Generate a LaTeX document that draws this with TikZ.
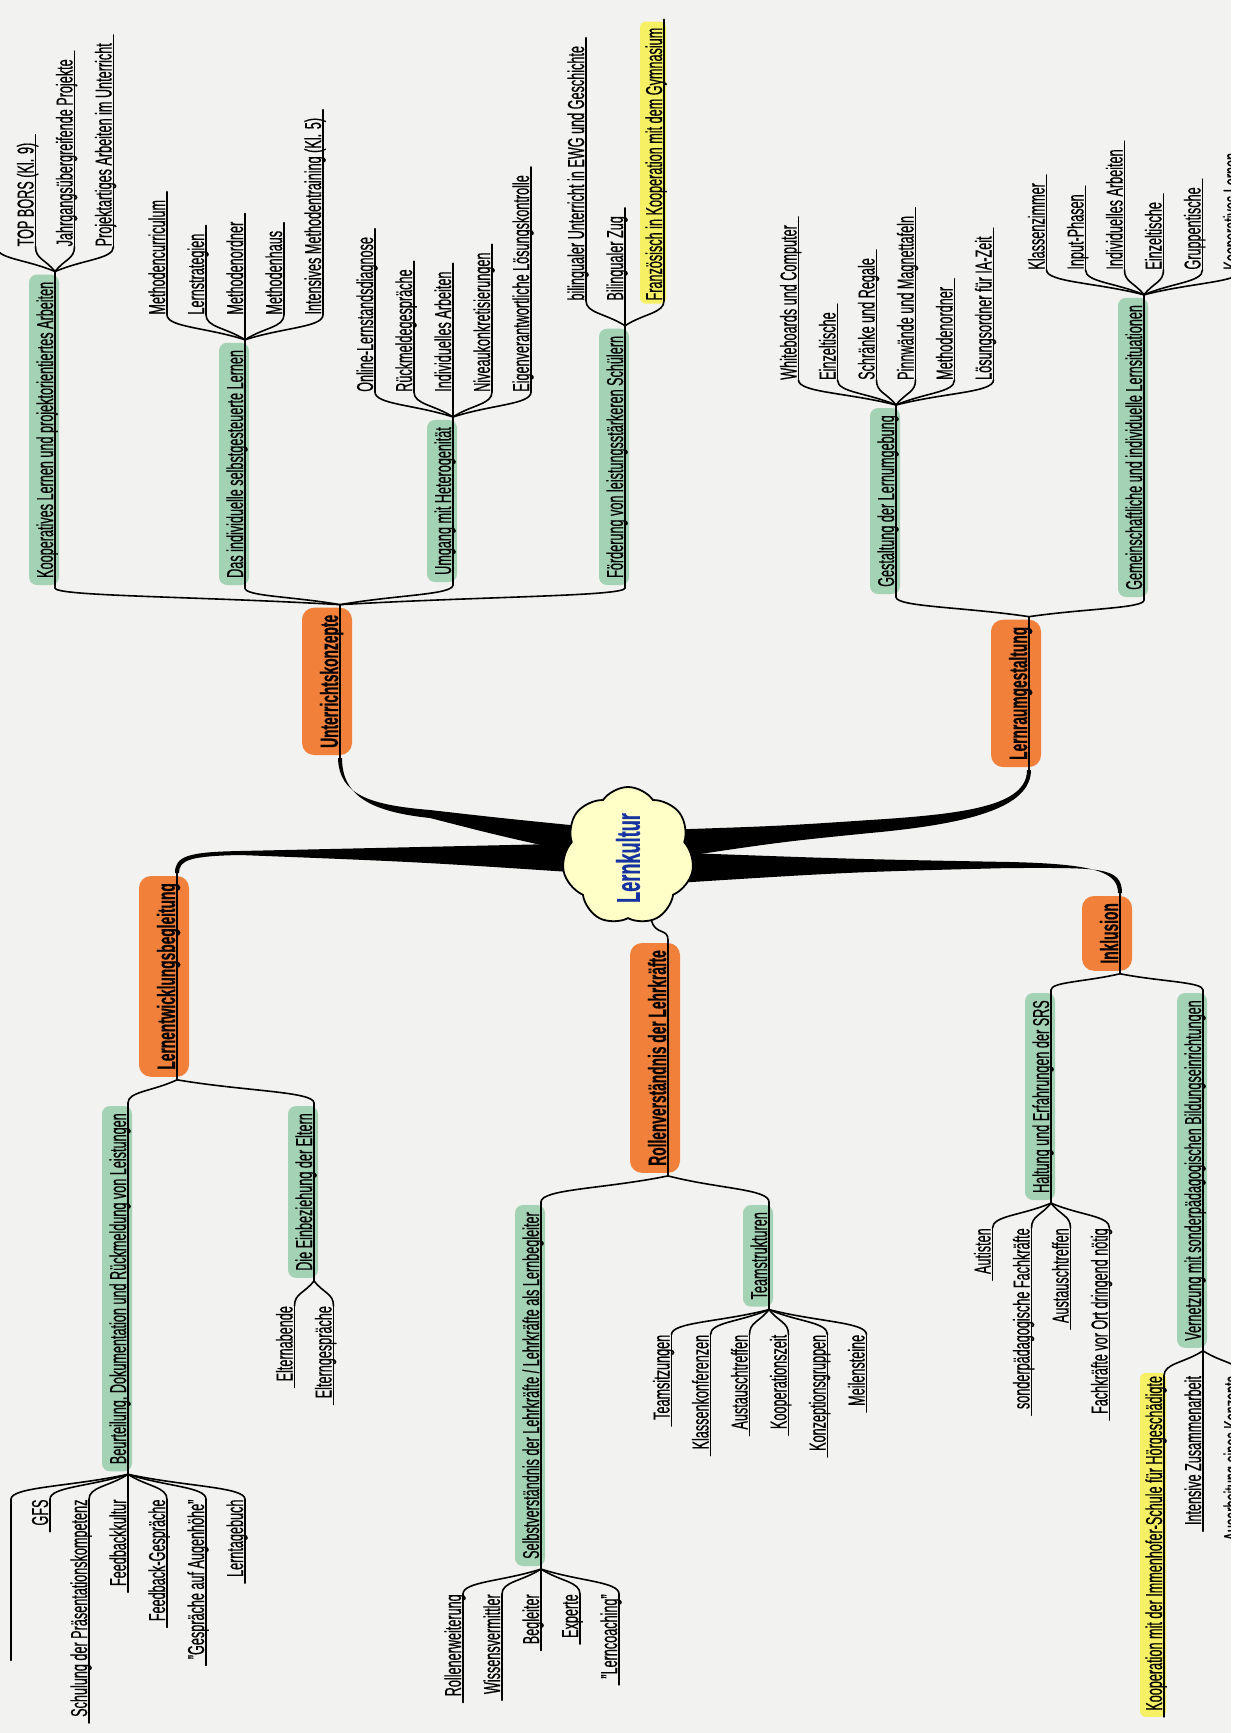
\documentclass[tikz,border=0pt]{standalone}
\usepackage{fontspec}
\setmainfont{Liberation Sans}[FakeStretch=0.55,FakeBold=0.5]
\usetikzlibrary{calc,shapes.symbols,backgrounds}
\definecolor{paper}{RGB}{242,242,240}
\definecolor{og}{RGB}{240,128,58}
\definecolor{gr}{RGB}{164,210,180}
\definecolor{yl}{RGB}{246,240,100}
\definecolor{cl}{RGB}{255,255,200}
\definecolor{bl}{RGB}{20,50,160}
\tikzset{
 txt/.style={rotate=90, inner sep=0pt, font=\fontsize{23}{26}\selectfont},
 btxt/.style={rotate=90, inner sep=0pt, font=\fontsize{25}{28}\selectfont\bfseries},
 ln/.style={line width=1.6pt, line cap=round},
}
\newcommand\conn[2]{\draw[ln] (#1) .. controls ($(#1)!0.5!(#2)$) and ($(#2)!0.5!(#2|-#1)$) .. (#2);}
\newcommand\leafU[5][]{%
 \coordinate (#2s) at ($(#3)+(#4,-25)$);
 \node[txt,anchor=base west] (#2) at ($(#2s)+(-2,0)$) {#5};
 \ifx\relax#1\relax\else
 \begin{scope}[on background layer]\fill[#1,rounded corners=6pt] ($(#2.base west)+(4,3)$) rectangle ($(#2.base east)+(-22,-6)$);\end{scope}
 \fi
 \conn{#3}{#2s}
 \draw[ln] (#2s) -- ($(#2.base east)+(2,-8)$);
}
\newcommand\leafD[5][]{%
 \coordinate (#2s) at ($(#3)+(#4,25)$);
 \node[txt,anchor=base east] (#2) at ($(#2s)+(-2,0)$) {#5};
 \ifx\relax#1\relax\else
 \begin{scope}[on background layer]\fill[#1,rounded corners=6pt] ($(#2.base west)+(4,6)$) rectangle ($(#2.base east)+(-22,-3)$);\end{scope}
 \fi
 \conn{#3}{#2s}
 \draw[ln] (#2s) -- ($(#2.base west)+(2,6)$);
}
\newcommand\boxU[8]{%
 \coordinate (#1s) at (#2);
 \node[#3,anchor=base west] (#1) at ($(#1s)+(-2,-10)$) {#7};
 \coordinate (#1f) at ($(#1.base east)+(2,-10)$);
 \begin{scope}[on background layer]\fill[#4,rounded corners=#8] ($(#1.base west)+(#6,7)$) rectangle ($(#1.base east)+(-#5,-7)$);\end{scope}
 \draw[ln] (#1s) -- (#1f);
}
\newcommand\boxD[8]{%
 \coordinate (#1s) at (#2);
 \node[#3,anchor=base east] (#1) at ($(#1s)+(-2,10)$) {#7};
 \coordinate (#1f) at ($(#1.base west)+(2,10)$);
 \begin{scope}[on background layer]\fill[#4,rounded corners=#8] ($(#1.base west)+(#6,7)$) rectangle ($(#1.base east)+(-#5,-7)$);\end{scope}
 \draw[ln] (#1s) -- (#1f);
}
\newcommand\gU[3]{\boxU{#1}{#2}{txt}{gr}{24}{6}{#3}{8pt}}
\newcommand\gD[3]{\boxD{#1}{#2}{txt}{gr}{24}{6}{#3}{8pt}}
\newcommand\oU[3]{\boxU{#1}{#2}{btxt}{og}{36}{14}{#3}{12pt}}
\newcommand\oD[3]{\boxD{#1}{#2}{btxt}{og}{36}{14}{#3}{12pt}}
\begin{document}
\begin{tikzpicture}[x=1pt,y=-1pt]
\useasboundingbox (0,0) rectangle (1239,1733);
\begin{scope}[on background layer]
\fill[paper] (0,0) rectangle (1239,1733);
\end{scope}
% thick main branches
\fill (338,758) .. controls (339,795) and (370,805) .. (430,810) .. controls (500,818) .. (600,828) -- (600,858) .. controls (500,836) .. (430,818) .. controls (373,812) and (342,797) .. (342,758) -- cycle;
\fill (175,873) .. controls (175,856) and (188,852) .. (240,851) .. controls (420,847) .. (600,843) -- (600,874) .. controls (420,862) .. (240,855) .. controls (190,856) and (179,860) .. (179,873) -- cycle;
\fill (1027,770) .. controls (1027,806) and (965,814) .. (870,820) .. controls (780,826) .. (660,830) -- (660,860) .. controls (780,842) .. (870,833) .. controls (968,824) and (1031,808) .. (1031,770) -- cycle;
\fill (660,852) .. controls (850,859) .. (1010,862) .. controls (1095,864) and (1118,872) .. (1118,893) -- (1122,893) .. controls (1122,866) and (1098,868) .. (1010,868) .. controls (850,872) .. (660,884) -- cycle;
% centre
\node[cloud, cloud puffs=7, cloud puff arc=110, cloud ignores aspect, minimum width=132pt, minimum height=138pt, draw, line width=1.8pt, fill=cl, inner sep=0pt] (LK) at (628,856) {};
\node[rotate=90, inner sep=0pt, font=\fontsize{33}{35}\selectfont\bfseries, text=bl] (LKt) at (628,858) {Lernkultur};
% main topics
\oU{UK}{340,758}{Unterrichtskonzepte}
\oU{LR}{1029,770}{Lernraumgestaltung}
\oD{LE}{177,873}{Lernentwicklungsbegleitung}
\oD{RV}{668,940}{Rollenverständnis der Lehrkräfte}
\oD{IK}{1120,893}{Inklusion}
\draw[ln] (LK.290) .. controls ($(LK.290)+(4,14)$) and ($(RVs)+(0,-12)$) .. (RVs);
% Unterrichtskonzepte
\gU{KO}{55,588}{Kooperatives Lernen und projektorientiertes Arbeiten}
\conn{UKf}{KOs}
\gU{IN}{245,588}{Das individuelle selbstgesteuerte Lernen}
\conn{UKf}{INs}
\gU{UM}{453,585}{Umgang mit Heterogenität}
\conn{UKf}{UMs}
\gU{FO}{625,588}{Förderung von leistungsstärkeren Schülern}
\conn{UKf}{FOs}
\coordinate (KO0s) at ($(KOf)+(-58.5,-25)$);
\conn{KOf}{KO0s}
\leafU{KO1}{KOf}{-19.5}{TOP BORS (Kl. 9)}
\leafU{KO2}{KOf}{19.5}{Jahrgangsübergreifende Projekte}
\leafU{KO3}{KOf}{58.5}{Projektartiges Arbeiten im Unterricht}
\leafU{IN1}{INf}{-78}{Methodencurriculum}
\leafU{IN2}{INf}{-39}{Lernstrategien}
\leafU{IN3}{INf}{0}{Methodenordner}
\leafU{IN4}{INf}{39}{Methodenhaus}
\leafU{IN5}{INf}{78}{Intensives Methodentraining (Kl. 5)}
\leafU{UM1}{UMf}{-78}{Online-Lernstandsdiagnose}
\leafU{UM2}{UMf}{-39}{Rückmeldegespräche}
\leafU{UM3}{UMf}{0}{Individuelles Arbeiten}
\leafU{UM4}{UMf}{39}{Niveaukonkretisierungen}
\leafU{UM5}{UMf}{78}{Eigenverantwortliche Lösungskontrolle}
\leafU{FO1}{FOf}{-39}{bilingualer Unterricht in EWG und Geschichte}
\leafU{FO2}{FOf}{0}{Bilingualer Zug}
\leafU[yl]{FO3}{FOf}{39}{Französisch in Kooperation mit dem Gymnasium}
% Lernraumgestaltung
\gU{GE}{896,597}{Gestaltung der Lernumgebung}
\conn{LRf}{GEs}
\gU{GM}{1144,600}{Gemeinschaftliche und individuelle Lernsituationen}
\conn{LRf}{GMs}
\leafU{GE1}{GEf}{-97.5}{Whiteboards und Computer}
\leafU{GE2}{GEf}{-58.5}{Einzeltische}
\leafU{GE3}{GEf}{-19.5}{Schränke und Regale}
\leafU{GE4}{GEf}{19.5}{Pinnwände und Magnettafeln}
\leafU{GE5}{GEf}{58.5}{Methodenordner}
\leafU{GE6}{GEf}{97.5}{Lösungsordner für IA-Zeit}
\leafU{GM1}{GMf}{-97.5}{Klassenzimmer}
\leafU{GM2}{GMf}{-58.5}{Input-Phasen}
\leafU{GM3}{GMf}{-19.5}{Individuelles Arbeiten}
\leafU{GM4}{GMf}{19.5}{Einzeltische}
\leafU{GM5}{GMf}{58.5}{Gruppentische}
\leafU{GM6}{GMf}{97.5}{Kooperatives Lernen}
% Lernentwicklungsbegleitung
\gD{BE}{128,1103}{Beurteilung, Dokumentation und Rückmeldung von Leistungen}
\conn{LEf}{BEs}
\gD{EL}{314,1103}{Die Einbeziehung der Eltern}
\conn{LEf}{ELs}
\coordinate (BE0s) at ($(BEf)+(-117,25)$);
\conn{BEf}{BE0s}
\draw[ln] (BE0s) -- ++(0,161);
\leafD{BE1}{BEf}{-78}{GFS}
\leafD{BE2}{BEf}{-39}{Schulung der Präsentationskompetenz}
\leafD{BE3}{BEf}{0}{Feedbackkultur}
\leafD{BE4}{BEf}{39}{Feedback-Gespräche}
\leafD{BE5}{BEf}{78}{"Gespräche auf Augenhöhe"}
\leafD{BE6}{BEf}{117}{Lerntagebuch}
\leafD{EL1}{ELf}{-19.5}{Elternabende}
\leafD{EL2}{ELf}{19.5}{Elterngespräche}
% Rollenverstaendnis
\gD{SE}{541,1202}{Selbstverständnis der Lehrkräfte / Lehrkräfte als Lernbegleiter}
\conn{RVf}{SEs}
\gD{TS}{769,1202}{Teamstrukturen}
\conn{RVf}{TSs}
\leafD{SE1}{SEf}{-78}{Rollenerweiterung}
\leafD{SE2}{SEf}{-39}{Wissensvermittler}
\leafD{SE3}{SEf}{0}{Begleiter}
\leafD{SE4}{SEf}{39}{Experte}
\leafD{SE5}{SEf}{78}{"Lerncoaching"}
\leafD{TS1}{TSf}{-97.5}{Teamsitzungen}
\leafD{TS2}{TSf}{-58.5}{Klassenkonferenzen}
\leafD{TS3}{TSf}{-19.5}{Austauschtreffen}
\leafD{TS4}{TSf}{19.5}{Kooperationszeit}
\leafD{TS5}{TSf}{58.5}{Konzeptionsgruppen}
\leafD{TS6}{TSf}{97.5}{Meilensteine}
% Inklusion
\gD{HA}{1051,990}{Haltung und Erfahrungen der SRS}
\conn{IKf}{HAs}
\gD{VE}{1203,990}{Vernetzung mit sonderpädagogischen Bildungseinrichtungen}
\conn{IKf}{VEs}
\leafD{HA1}{HAf}{-58.5}{Autisten}
\leafD{HA2}{HAf}{-19.5}{sonderpädagogische Fachkräfte}
\leafD{HA3}{HAf}{19.5}{Austauschtreffen}
\leafD{HA4}{HAf}{58.5}{Fachkräfte vor Ort dringend nötig}
\leafD[yl]{VE1}{VEf}{-39}{Kooperation mit der Immenhofer-Schule für Hörgeschädigte}
\leafD{VE2}{VEf}{0}{Intensive Zusammenarbeit}
\leafD{VE3}{VEf}{39}{Ausarbeitung eines Konzepts}
% scan edge
\fill[white] (1231,0) rectangle (1239,1733);
\end{tikzpicture}
\end{document}
